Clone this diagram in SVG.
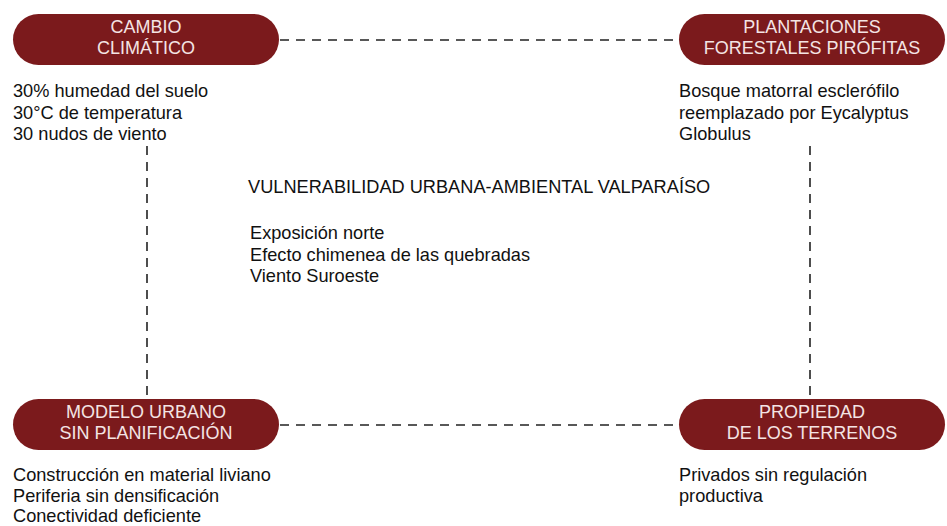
<svg xmlns="http://www.w3.org/2000/svg" width="947" height="526" viewBox="0 0 947 526">
<style>
.pill{fill:#7b1a1c;}
.pt{font-family:"Liberation Sans",Arial,sans-serif;font-size:18px;fill:#f4e4e4;text-anchor:middle;}
.tx{font-family:"Liberation Sans",Arial,sans-serif;font-size:18.2px;fill:#111;}
.dash{stroke:#222;stroke-width:1.6;stroke-dasharray:9,7;fill:none;}
</style>
<rect width="947" height="526" fill="#fff"/>
<g id="connectors">
<line class="dash" x1="280" y1="40" x2="679" y2="40"/>
<line class="dash" x1="280" y1="425" x2="679" y2="425"/>
<line class="dash" x1="147" y1="146" x2="147" y2="399"/>
<line class="dash" x1="810" y1="146" x2="810" y2="399"/>
</g>
<g id="cambio">
<rect class="pill" x="13" y="14" width="266" height="51" rx="25.5"/>
<text class="pt" x="146" y="33">CAMBIO</text>
<text class="pt" x="146" y="54">CLIMÁTICO</text>
<text class="tx" x="13" y="97">30% humedad del suelo</text>
<text class="tx" x="13" y="119">30°C de temperatura</text>
<text class="tx" x="13" y="140">30 nudos de viento</text>
</g>
<g id="plantaciones">
<rect class="pill" x="679" y="14" width="266" height="51" rx="25.5"/>
<text class="pt" x="812" y="33">PLANTACIONES</text>
<text class="pt" x="812" y="54">FORESTALES PIRÓFITAS</text>
<text class="tx" x="679" y="97">Bosque matorral esclerófilo</text>
<text class="tx" x="679" y="119">reemplazado por Eycalyptus</text>
<text class="tx" x="679" y="140">Globulus</text>
</g>
<g id="centro">
<text class="tx" x="248" y="193">VULNERABILIDAD URBANA-AMBIENTAL VALPARAÍSO</text>
<text class="tx" x="250" y="239">Exposición norte</text>
<text class="tx" x="250" y="261">Efecto chimenea de las quebradas</text>
<text class="tx" x="250" y="282">Viento Suroeste</text>
</g>
<g id="modelo">
<rect class="pill" x="13" y="399" width="266" height="51" rx="25.5"/>
<text class="pt" x="146" y="418">MODELO URBANO</text>
<text class="pt" x="146" y="439">SIN PLANIFICACIÓN</text>
<text class="tx" x="13" y="481">Construcción en material liviano</text>
<text class="tx" x="13" y="502">Periferia sin densificación</text>
<text class="tx" x="13" y="522">Conectividad deficiente</text>
</g>
<g id="propiedad">
<rect class="pill" x="679" y="399" width="266" height="51" rx="25.5"/>
<text class="pt" x="812" y="418">PROPIEDAD</text>
<text class="pt" x="812" y="439">DE LOS TERRENOS</text>
<text class="tx" x="679" y="481">Privados sin regulación</text>
<text class="tx" x="679" y="502">productiva</text>
</g>
</svg>
